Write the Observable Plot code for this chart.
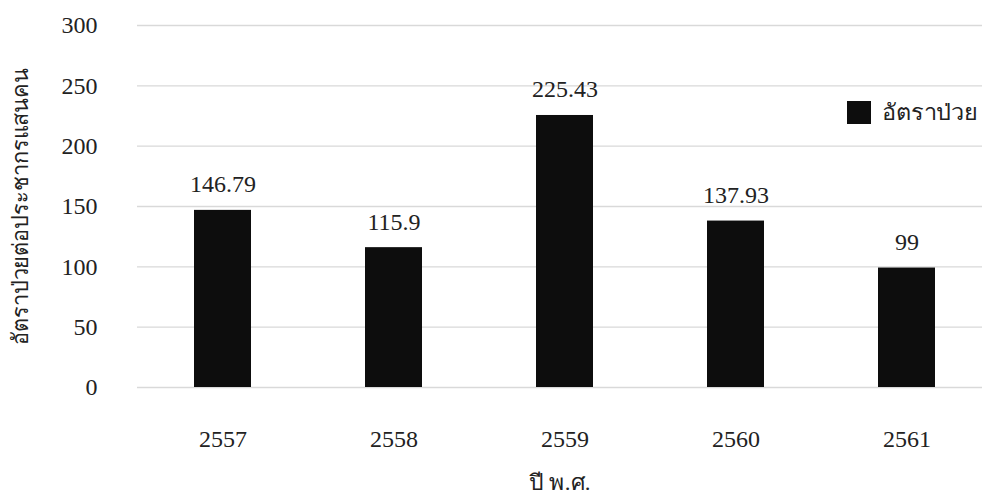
<!DOCTYPE html>
<html>
<head>
<meta charset="utf-8">
<script src="https://cdn.jsdelivr.net/npm/d3@7"></script>
<script src="https://cdn.jsdelivr.net/npm/@observablehq/plot@0.6"></script>
<style>
  html, body { margin: 0; padding: 0; background: #fff; overflow: hidden; }
  #wrap { position: relative; width: 982px; height: 499px; overflow: hidden; }
  #legend { position: absolute; left: 847px; top: 95px; display: flex; align-items: center;
            font-family: "Liberation Serif", serif; font-size: 22px; color: #222; white-space: nowrap; }
  #legend .sw { width: 24px; height: 23px; background: #0d0d0d; margin-right: 11px; flex: none; }
  #legend span { display: inline-block; transform-origin: left center; }
  svg text { font-family: "Liberation Serif", serif; }
</style>
</head>
<body>
<div id="wrap"><div id="legend"></div></div>
<script>
const years = ["2557", "2558", "2559", "2560", "2561"];
const rates = [146.79, 115.9, 225.43, 137.93, 99];
const yTicks = [0, 50, 100, 150, 200, 250, 300];
const seriesName = "อัตราป่วย";
const xTitle = "ปี พ.ศ.";
const yTitle = "อัตราป่วยต่อประชากรแสนคน";

const data = years.map((y, i) => ({year: y, rate: rates[i]}));
const serif = "Liberation Serif, serif";

const chart = Plot.plot({
  width: 982,
  height: 499,
  marginTop: 25,
  marginBottom: 112,
  marginLeft: 137,
  marginRight: 0,
  style: {fontFamily: serif, fontSize: "24px", color: "#222", background: "white", overflow: "hidden"},
  x: {domain: years, range: [137, 992], paddingInner: 0.667, paddingOuter: 0.333, label: null},
  y: {domain: [0, 300], label: null},
  marks: [
    Plot.gridY(yTicks, {stroke: "#d9d9d9", strokeOpacity: 1, strokeWidth: 1.3}),
    Plot.barY(data, {x: "year", y: "rate", fill: "#0d0d0d"}),
    Plot.text(data, {x: "year", y: "rate", text: d => String(d.rate), lineAnchor: "bottom", dy: -18, fontSize: 24, fontFamily: serif}),
    Plot.axisY(yTicks, {tickSize: 0, tickPadding: 40, label: null, fontSize: 24, fontFamily: serif}),
    Plot.axisX({tickSize: 0, tickPadding: 42, label: null, fontSize: 24, fontFamily: serif}),
    Plot.text([yTitle], {frameAnchor: "left", textAnchor: "middle", rotate: -90, dx: -117, fontSize: 22, fontFamily: serif}),
    Plot.text([xTitle], {frameAnchor: "bottom", textAnchor: "middle", dy: 102, fontSize: 22, fontFamily: serif})
  ]
});
document.getElementById("wrap").prepend(chart);

// condense the Thai titles horizontally to the lengths seen in the reference
function fit(str, len) {
  chart.querySelectorAll("text").forEach(t => {
    if (t.textContent.trim() === str) {
      const L = t.getComputedTextLength();
      if (L > 0) {
        const tr = t.getAttribute("transform") || "";
        t.setAttribute("transform", tr + " scale(" + (len / L) + ",1)");
      }
    }
  });
}
fit(yTitle, 275);
fit(xTitle, 62);

const lg = document.getElementById("legend");
lg.innerHTML = '<div class="sw"></div><span></span>';
const sp = lg.querySelector("span");
sp.textContent = seriesName;
const w = sp.getBoundingClientRect().width;
sp.style.transform = "scaleX(" + (96 / w) + ")";
</script>
</body>
</html>
